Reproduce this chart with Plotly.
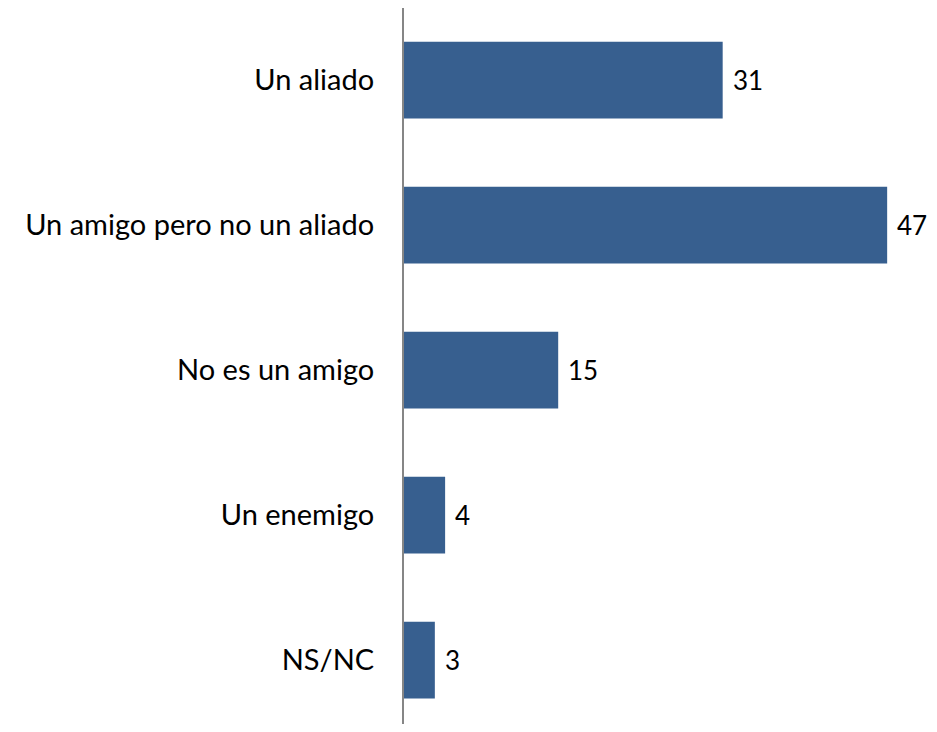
import plotly.graph_objects as go

# datos
categorias = ["Un aliado", "Un amigo pero no un aliado", "No es un amigo", "Un enemigo", "NS/NC"]
valores = [31, 47, 15, 4, 3]

color_barra = "#375F8F"
fuente = "Lato"
tam = 29

fig = go.Figure()
fig.add_trace(go.Bar(
    x=valores, y=categorias, orientation="h",
    marker=dict(color=color_barra, line=dict(width=0)),
    width=0.53, hoverinfo="skip"
))

# etiquetas de valor a la derecha de cada barra
for cat, v in zip(categorias, valores):
    fig.add_annotation(
        x=v, y=cat, text=str(v), showarrow=False,
        xanchor="left", xshift=8,
        font=dict(family=fuente, size=26, color="#000000")
    )

# la pagina tiene 8px de margen en body, se compensa aqui
fig.update_layout(
    width=921, height=716,
    margin=dict(l=396, r=0, t=0, b=0),
    paper_bgcolor="white", plot_bgcolor="white",
    showlegend=False,
    font=dict(family=fuente, size=tam, color="#000000"),
)
fig.update_xaxes(range=[0, 51.07], visible=False, fixedrange=True)
fig.update_yaxes(
    range=[4.441, -0.497], showline=True, linecolor="#868686", linewidth=2,
    showgrid=False, ticks="", ticklabelstandoff=22, automargin=False,
    tickfont=dict(family=fuente, size=tam, color="#000000"),
)

fig.write_html("out.html")
